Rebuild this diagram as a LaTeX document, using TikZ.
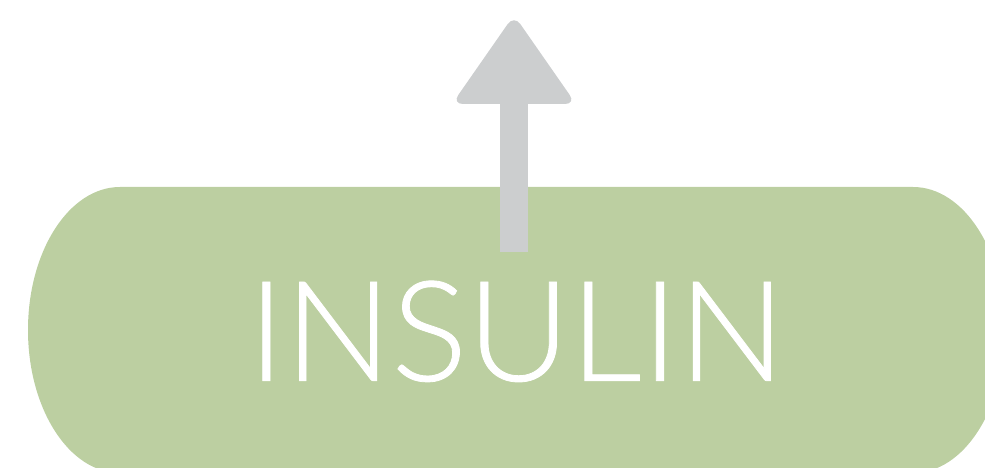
\documentclass[tikz,border=0pt]{standalone}
\usepackage{fontspec}
\setmainfont{Lato Light}[FakeBold=0.6]
\definecolor{pillgreen}{RGB}{188,207,161}
\definecolor{arrowgray}{RGB}{204,206,207}
\begin{document}
\begin{tikzpicture}[x=1pt,y=1pt,
  pill/.style={fill=pillgreen,draw=none},
  arrowpart/.style={fill=arrowgray,draw=none},
  label/.style={inner sep=0pt,outer sep=0pt,text=white,anchor=south}]
\useasboundingbox (0,0) rectangle (985,468);
\clip (0,0) rectangle (985,468);
% green pill shape
\path[pill] (120,281) -- (913,281)
  arc[start angle=90,end angle=-90,x radius=92,y radius=143]
  -- (120,-5)
  arc[start angle=270,end angle=90,x radius=92,y radius=143] -- cycle;
% arrow
\coordinate (shaftbase) at (514,216);
\coordinate (shafttop) at (514,368);
\path[arrowpart] (500,216) rectangle (528,368);
\path[arrowpart,rounded corners=11pt] (514,453) -- (576,364) -- (452,364) -- cycle;
% text
\node[label] (insulin) at (516.5,86) {\resizebox{537pt}{100pt}{\fontsize{139}{139}\selectfont INSULIN}};
\end{tikzpicture}
\end{document}
